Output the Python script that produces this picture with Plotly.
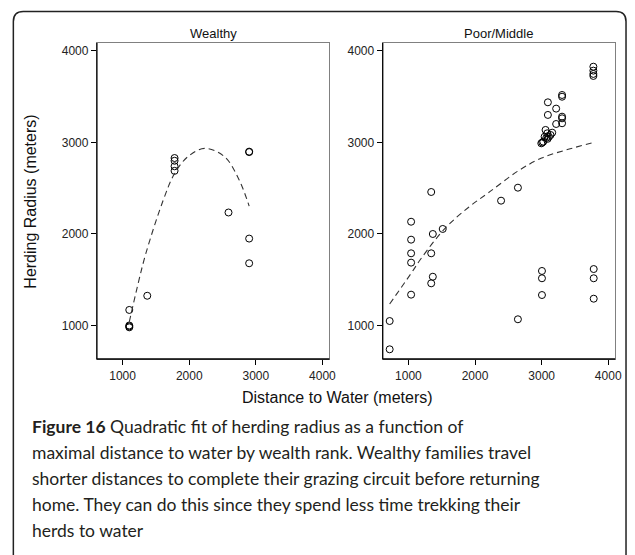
import plotly.graph_objects as go

W, H = 635, 555

# ---- data -------------------------------------------------------------
wealthy_dist = [1100, 1100, 1100, 1100, 1370, 1780, 1780, 1780, 1780,
                2590, 2900, 2900, 2900, 2900]
wealthy_radius = [1170, 1000, 990, 980, 1325, 2830, 2800, 2740, 2690,
                  2235, 2900, 2895, 1950, 1680]

wealthy_fit_dist = [1100, 1220, 1350, 1610, 1780, 1980, 2230, 2530, 2750, 2900]
wealthy_fit_radius = [1040, 1420, 1790, 2370, 2660, 2845, 2935, 2845, 2590, 2305]

poor_dist = [718, 718, 1040, 1040, 1040, 1040, 1040, 1342, 1366, 1342, 1366,
             1342, 1515, 2391, 2644, 2644, 3005, 3005, 3005, 3782, 3782, 3782,
             2995, 3025, 3045, 3084, 3109, 3134, 3159, 3059, 3094, 3094, 3218,
             3218, 3307, 3307, 3307, 3307, 3307, 3777, 3777, 3777, 3777,
             3010, 3070, 3090]
poor_radius = [1049, 740, 2134, 1938, 1789, 1687, 1337, 2459, 2000, 1789, 1533,
               1461, 2055, 2364, 2506, 1068, 1596, 1516, 1333, 1617, 1516, 1293,
               2991, 3009, 3063, 3100, 3063, 3082, 3107, 3137, 3301, 3439, 3370,
               3202, 3519, 3500, 3282, 3264, 3210, 3828, 3785, 3749, 3727,
               3000, 3050, 3040]

poor_fit_dist = [718, 1040, 1203, 1550, 1900, 2200, 2650, 3000, 3400, 3780]
poor_fit_radius = [1235, 1570, 1745, 2062, 2290, 2450, 2690, 2830, 2925, 3000]

panel_titles = ["Wealthy", "Poor/Middle"]
tick_vals = [1000, 2000, 3000, 4000]
tick_text = ["1000", "2000", "3000", "4000"]

caption_lines = [
    "<b>Figure 16</b> Quadratic fit of herding radius as a function of",
    "maximal distance to water by wealth rank. Wealthy families travel",
    "shorter distances to complete their grazing circuit before returning",
    "home. They can do this since they spend less time trekking their",
    "herds to water",
]

# ---- layout helpers (pixel -> paper) -----------------------------------
def px(x):
    return x / W


def py(y):
    return 1 - y / H


X_RANGE = [614, 4104]
Y_RANGE = [634, 4087]
AXIS_FONT = "Liberation Sans, Arial, sans-serif"

fig = go.Figure()

marker = dict(symbol="circle-open", size=7, color="black", line=dict(width=1))
dash_line = dict(color="#333333", width=1.1, dash="6px,4px")

fig.add_trace(go.Scatter(x=wealthy_dist, y=wealthy_radius, mode="markers",
                         marker=marker, xaxis="x", yaxis="y", showlegend=False))
fig.add_trace(go.Scatter(x=wealthy_fit_dist, y=wealthy_fit_radius, mode="lines",
                         line=dict(shape="spline", **dash_line),
                         xaxis="x", yaxis="y", showlegend=False))
fig.add_trace(go.Scatter(x=poor_dist, y=poor_radius, mode="markers",
                         marker=marker, xaxis="x2", yaxis="y2", showlegend=False))
fig.add_trace(go.Scatter(x=poor_fit_dist, y=poor_fit_radius, mode="lines",
                         line=dict(shape="spline", **dash_line),
                         xaxis="x2", yaxis="y2", showlegend=False))

axis_common = dict(
    showgrid=False, zeroline=False, showline=True, linecolor="#808080",
    linewidth=1.2, mirror=True, ticks="outside", ticklen=5, tickcolor="black",
    tickwidth=1, tickvals=tick_vals, ticktext=tick_text,
    tickfont=dict(family=AXIS_FONT, size=12, color="#222222"),
)

y_dom = [py(359), py(43)]
fig.update_layout(
    width=W, height=H,
    margin=dict(l=0, r=0, t=0, b=0),
    paper_bgcolor="white", plot_bgcolor="rgba(0,0,0,0)",
    xaxis=dict(domain=[px(98), px(333)], range=X_RANGE, anchor="y", **axis_common),
    yaxis=dict(domain=y_dom, range=Y_RANGE, anchor="x", **axis_common),
    xaxis2=dict(domain=[px(387), px(622)], range=X_RANGE, anchor="y2", **axis_common),
    yaxis2=dict(domain=y_dom, range=Y_RANGE, anchor="x2", **axis_common),
)

shapes = []
# black axis lines on the left and bottom of each panel
for xr, yr in (("x domain", "y domain"), ("x2 domain", "y2 domain")):
    shapes.append(dict(type="line", xref=xr, yref=yr, x0=0, x1=0, y0=0, y1=1,
                       line=dict(color="black", width=1.3), layer="above"))
    shapes.append(dict(type="line", xref=xr, yref=yr, x0=0, x1=1, y0=0, y1=0,
                       line=dict(color="black", width=1.3), layer="above"))

# outer rounded frame (open at the bottom, continuing off the page)
r = 10
left, right, top, bottom = 13.5, 633, 11.5, 565
path = (f"M {px(left)},{py(bottom)} L {px(left)},{py(top + r)} "
        f"Q {px(left)},{py(top)} {px(left + r)},{py(top)} "
        f"L {px(right - r)},{py(top)} "
        f"Q {px(right)},{py(top)} {px(right)},{py(top + r)} "
        f"L {px(right)},{py(bottom)}")
shapes.append(dict(type="path", xref="paper", yref="paper", path=path,
                   line=dict(color="#222222", width=1.5)))
fig.update_layout(shapes=shapes)

annotations = []
for title, (a, b) in zip(panel_titles, ((98, 333), (387, 622))):
    annotations.append(dict(text=title, x=px((a + b) / 2), y=py(33),
                            xref="paper", yref="paper", showarrow=False,
                            xanchor="center", yanchor="middle",
                            font=dict(family=AXIS_FONT, size=13, color="#111111")))

annotations.append(dict(text="Herding Radius (meters)", x=px(30), y=py(202),
                        xref="paper", yref="paper", showarrow=False, textangle=-90,
                        xanchor="center", yanchor="middle",
                        font=dict(family=AXIS_FONT, size=16, color="#111111")))
annotations.append(dict(text="Distance to Water (meters)", x=px(341), y=py(397),
                        xref="paper", yref="paper", showarrow=False,
                        xanchor="center", yanchor="middle",
                        font=dict(family=AXIS_FONT, size=16, color="#111111")))

for i, line in enumerate(caption_lines):
    annotations.append(dict(text=line, x=px(30), y=py(426 + 26.2 * i),
                            xref="paper", yref="paper", showarrow=False,
                            xanchor="left", yanchor="middle", align="left",
                            font=dict(family="Lato, sans-serif",
                                      size=17.5, color="#231f20")))
fig.update_layout(annotations=annotations)

fig.write_html("out.html")
